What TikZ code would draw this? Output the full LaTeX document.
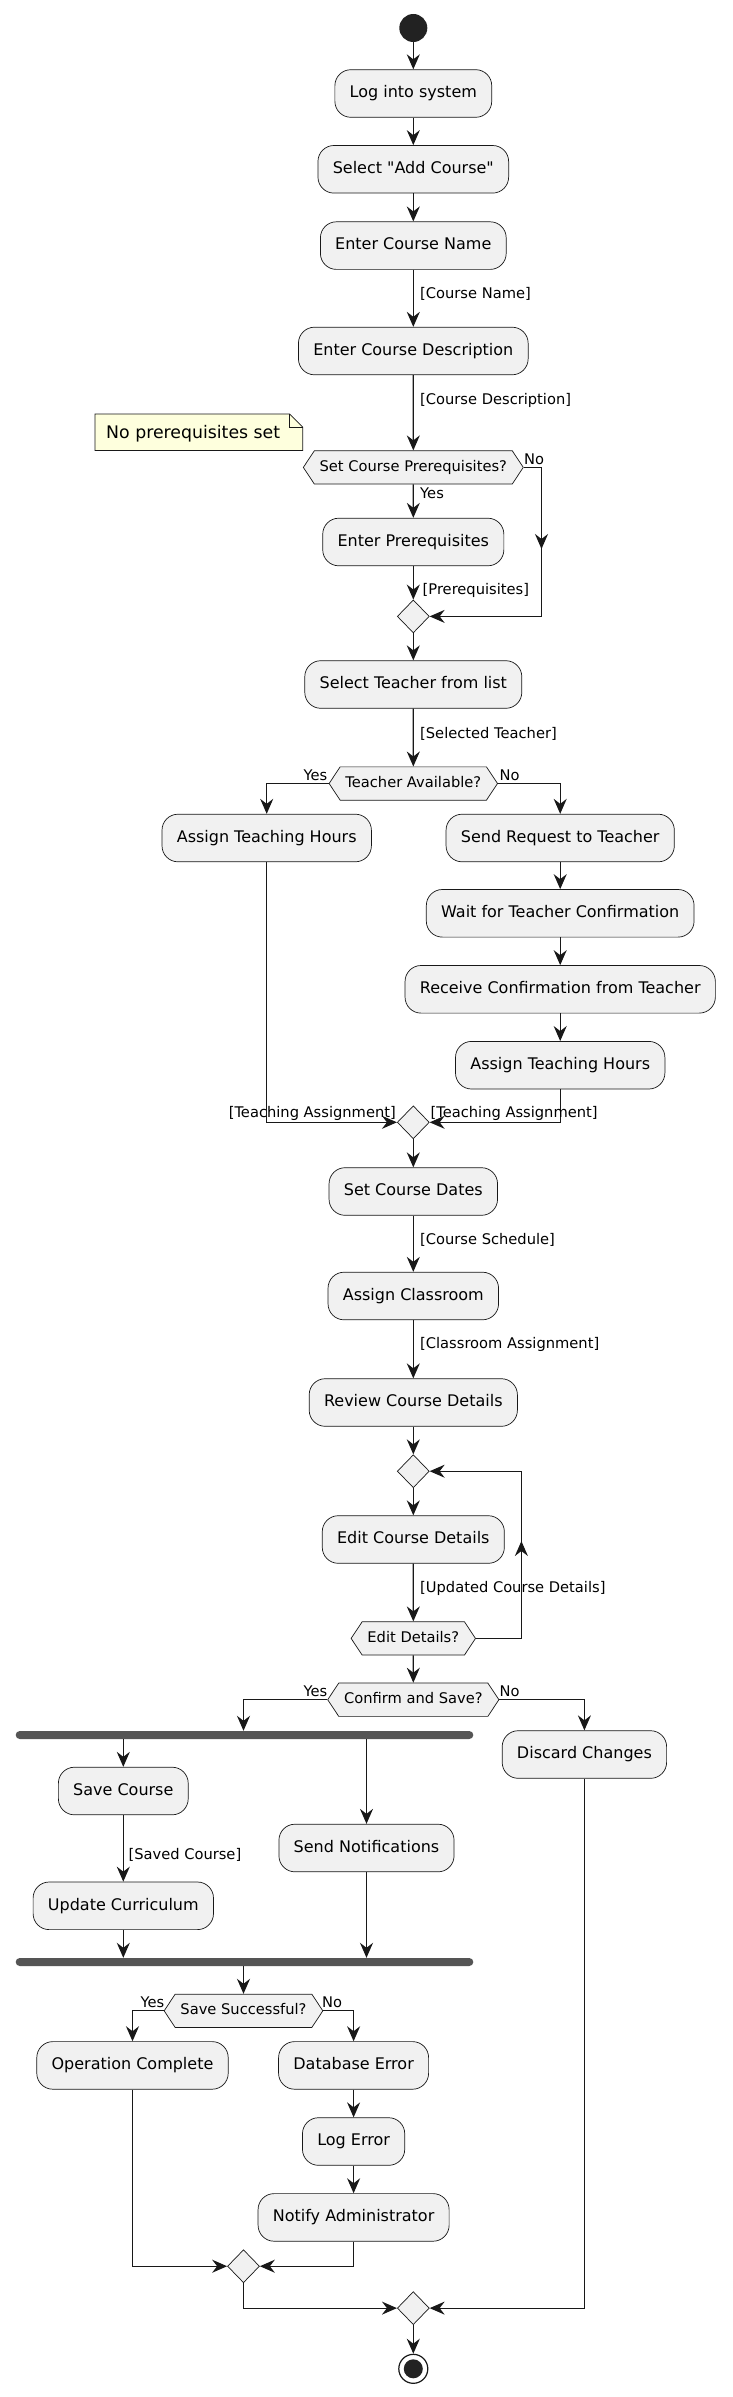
\documentclass[tikz,border=0pt]{standalone}
\usepackage{fontspec}
\setmainfont{DejaVu Sans}[Ligatures=TeXOff]
\usetikzlibrary{shapes.geometric,shapes.symbols,arrows.meta,calc}
\definecolor{actfill}{HTML}{F1F1F1}
\definecolor{ln}{HTML}{181818}
\definecolor{barc}{HTML}{555555}
\definecolor{notefill}{HTML}{FEFFDD}
\definecolor{startc}{HTML}{222222}
\tikzset{
 act/.style={draw=ln, fill=actfill, line width=0.7pt, rounded corners=16pt, minimum height=47.6pt, inner xsep=14.8pt, inner ysep=0pt, text height=12pt, text depth=3.5pt, font=\fontsize{16}{19}\selectfont},
 dec/.style={draw=ln, fill=actfill, line width=0.7pt, shape=signal, signal to=east and west, signal pointer angle=113, inner xsep=5.3pt, inner ysep=9.4pt, text height=11pt, text depth=3.5pt, font=\fontsize{14.67}{17}\selectfont},
 mrg/.style={draw=ln, fill=actfill, line width=0.7pt, shape=diamond, minimum width=32pt, minimum height=33pt, inner sep=0pt},
 syncbar/.style={fill=barc, rounded corners=4pt, minimum width=457.6pt, minimum height=8pt, inner sep=0pt},
 lbl/.style={font=\fontsize{14.67}{17}\selectfont, inner sep=0pt, text=black},
 flow/.style={draw=ln, line width=1.2pt, -{Stealth[length=15pt,width=13pt,inset=5pt]}},
}
\begin{document}
\begin{tikzpicture}[x=1pt,y=-1pt]
\path[use as bounding box, fill=white] (0,0) rectangle (732,2397);

% note
\path[draw=ln, fill=notefill, line width=0.7pt] (95,414) -- (289.7,414) -- (302.7,427) -- (302.7,450.5) -- (95,450.5) -- cycle;
\draw[ln, line width=0.7pt] (289.7,414) -- (289.7,427) -- (302.7,427);
\node[lbl, font=\fontsize{17.33}{20}\selectfont, anchor=west] (note) at (106,433.5) {No prerequisites set};

% nodes
\node[circle, fill=startc, minimum size=28pt, inner sep=0pt] (start) at (413.3,28) {};
\node[act] (log) at (413.3,93.5) {Log into system};
\node[act] (sel) at (413.3,169.3) {Select "Add Course"};
\node[act] (name) at (413.3,245.6) {Enter Course Name};
\node[act] (desc) at (413.3,351) {Enter Course Description};
\node[dec] (preq) at (413.3,467.4) {Set Course Prerequisites?};
\node[act] (pre) at (413.3,542) {Enter Prerequisites};
\node[mrg] (m1) at (413.3,616.4) {};
\node[act] (teach) at (413.3,684.5) {Select Teacher from list};
\node[dec] (avail) at (413.3,783.5) {Teacher Available?};
\node[act] (ahl) at (266.7,838) {Assign Teaching Hours};
\node[act] (sreq) at (560.2,838) {Send Request to Teacher};
\node[act] (wait) at (560.2,913.3) {Wait for Teacher Confirmation};
\node[act] (recv) at (560.2,989.3) {Receive Confirmation from Teacher};
\node[act] (ahr) at (560.2,1065.2) {Assign Teaching Hours};
\node[mrg] (m2) at (413.3,1122.3) {};
\node[act] (dates) at (413.3,1191.5) {Set Course Dates};
\node[act] (room) at (413.3,1296) {Assign Classroom};
\node[act] (rev) at (413.3,1402.5) {Review Course Details};
\node[mrg] (m3) at (413.3,1471.2) {};
\node[act] (edit) at (413.3,1539.5) {Edit Course Details};
\node[dec] (editq) at (413.3,1638.4) {Edit Details?};
\node[dec] (conf) at (413.3,1699.7) {Confirm and Save?};
\node[syncbar] (fork) at (244.5,1735) {};
\node[act] (disc) at (584.4,1754.5) {Discard Changes};
\node[act] (savec) at (123.3,1791) {Save Course};
\node[act] (sendn) at (366.5,1848) {Send Notifications};
\node[act] (upd) at (123.3,1905.8) {Update Curriculum};
\node[syncbar] (join) at (244.5,1962) {};
\node[dec] (saveq) at (243.5,2010.8) {Save Successful?};
\node[act] (opc) at (132.5,2065.4) {Operation Complete};
\node[act] (dberr) at (353.6,2065.4) {Database Error};
\node[act] (logerr) at (353.6,2141.5) {Log Error};
\node[act] (notify) at (353.6,2217.4) {Notify Administrator};
\node[mrg] (m4) at (243.5,2266.2) {};
\node[mrg] (m5) at (413.3,2308.1) {};
\node[circle, draw=ln, line width=1.2pt, fill=white, minimum size=29pt, inner sep=0pt] (end) at (413.3,2368.8) {};
\node[circle, fill=startc, minimum size=19pt, inner sep=0pt] (endin) at (end.center) {};

% coordinates for bends
\coordinate (nA) at (541.5,467.4);
\coordinate (nB) at (541.5,616.4);
\coordinate (nM) at (541.5,549);
\coordinate (lA) at (521.4,1638.4);
\coordinate (lB) at (521.4,1471.2);
\coordinate (lM) at (521.4,1541);

% connectors
\draw[flow] (start) -- (log);
\draw[flow] (log) -- (sel);
\draw[flow] (sel) -- (name);
\draw[flow] (name) -- (desc);
\draw[flow] (desc) -- (preq);
\draw[flow] (preq) -- (pre);
\draw[flow] (pre) -- (m1);
\draw[flow] (preq.east) -- (nA) -- (nB) -- (m1.east);
\draw[flow] (nA) -- (nM);
\draw[flow] (m1) -- (teach);
\draw[flow] (teach) -- (avail);
\draw[flow] (avail.west) -| (ahl.north);
\draw[flow] (avail.east) -| (sreq.north);
\draw[flow] (sreq) -- (wait);
\draw[flow] (wait) -- (recv);
\draw[flow] (recv) -- (ahr);
\draw[flow] (ahl.south) |- (m2.west);
\draw[flow] (ahr.south) |- (m2.east);
\draw[flow] (m2) -- (dates);
\draw[flow] (dates) -- (room);
\draw[flow] (room) -- (rev);
\draw[flow] (rev) -- (m3);
\draw[flow] (m3) -- (edit);
\draw[flow] (edit) -- (editq);
\draw[flow] (editq.east) -- (lA) -- (lB) -- (m3.east);
\draw[flow] (lA) -- (lM);
\draw[flow] (editq) -- (conf);
\draw[flow] (conf.west) -| (fork.north -| saveq.north);
\draw[flow] (conf.east) -| (disc.north);
\draw[flow] (fork.south -| savec.north) -- (savec.north);
\draw[flow] (fork.south -| sendn.north) -- (sendn.north);
\draw[flow] (savec) -- (upd);
\draw[flow] (upd.south) -- (upd.south |- join.north);
\draw[flow] (sendn.south) -- (sendn.south |- join.north);
\draw[flow] (join.south -| saveq.north) -- (saveq.north);
\draw[flow] (saveq.west) -| (opc.north);
\draw[flow] (saveq.east) -| (dberr.north);
\draw[flow] (dberr) -- (logerr);
\draw[flow] (logerr) -- (notify);
\draw[flow] (opc.south) |- (m4.west);
\draw[flow] (notify.south) |- (m4.east);
\draw[flow] (m4.south) |- (m5.west);
\draw[flow] (disc.south) |- (m5.east);
\draw[flow] (m5) -- (end);

% labels
\node[lbl, anchor=west] (t1) at (420,294.3) {[Course Name]};
\node[lbl, anchor=west] (t2) at (420,400) {[Course Description]};
\node[lbl, anchor=west] (t3) at (524,459) {No};
\node[lbl, anchor=west] (t4) at (420,493.3) {Yes};
\node[lbl, anchor=west] (t5) at (422.5,590.7) {[Prerequisites]};
\node[lbl, anchor=west] (t6) at (420,733.4) {[Selected Teacher]};
\node[lbl, anchor=east] (t7) at (327.5,774.8) {Yes};
\node[lbl, anchor=west] (t8) at (499.5,774.8) {No};
\node[lbl, anchor=east] (t9) at (396,1113.8) {[Teaching Assignment]};
\node[lbl, anchor=west] (t10) at (430.4,1113.8) {[Teaching Assignment]};
\node[lbl, anchor=west] (t11) at (420,1239.4) {[Course Schedule]};
\node[lbl, anchor=west] (t12) at (420,1344.9) {[Classroom Assignment]};
\node[lbl, anchor=west] (t13) at (420,1588.3) {[Updated Course Details]};
\node[lbl, anchor=east] (t14) at (327.5,1691.3) {Yes};
\node[lbl, anchor=west] (t15) at (499.5,1691.3) {No};
\node[lbl, anchor=west] (t16) at (128.4,1854.7) {[Saved Course]};
\node[lbl, anchor=east] (t17) at (164.5,2002.5) {Yes};
\node[lbl, anchor=west] (t18) at (322,2002.5) {No};
\end{tikzpicture}
\end{document}
